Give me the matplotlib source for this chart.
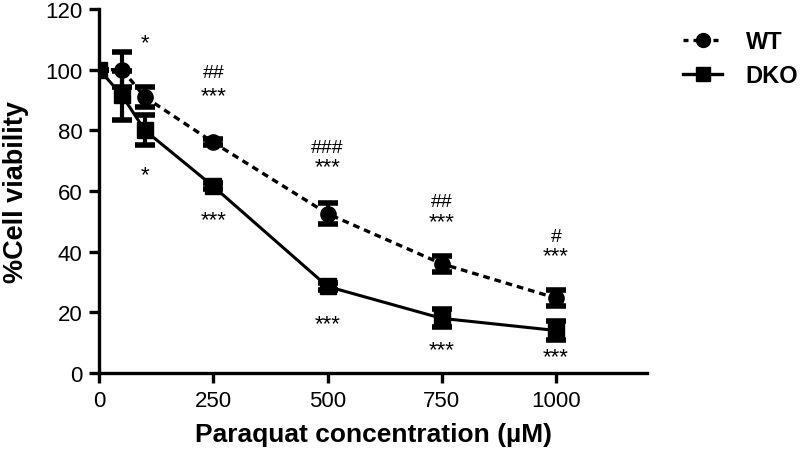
import numpy as np
import matplotlib.pyplot as plt
from matplotlib.lines import Line2D

plt.rcParams['font.family'] = ['Liberation Sans', 'DejaVu Sans']

conc = [0, 50, 100, 250, 500, 750, 1000]
wt = [100, 100, 91, 76, 52.5, 36, 24.7]
wt_err = [0, 5.8, 3.2, 1.0, 3.5, 2.6, 2.6]
dko = [100, 91.5, 80, 61.5, 28.5, 18, 14]
dko_err = [0, 8.0, 5.0, 1.0, 1.0, 3.0, 3.0]

# significance marks: (x, y, text)
marks_x = [100, 250, 250, 100, 250, 500, 500, 500, 750, 750, 750, 1000, 1000, 1000]
marks_y = [108.9, 99, 91.5, 65.5, 50.5, 74.3, 68, 16.2, 56.6, 49.8, 7.6, 45, 38.5, 5.3]
marks_t = ['*', '##', '***', '*', '***', '###', '***', '***', '##', '***', '***', '#', '***', '***']

fig = plt.figure(figsize=(8, 4.56), dpi=100)
ax = fig.add_axes([0.124, 0.18, 0.685, 0.798])

ax.errorbar(conc, wt, yerr=wt_err, color='black', ls=(0, (2.0, 1.5)), lw=2.4,
            marker='o', ms=11, capsize=7, capthick=4, elinewidth=3, zorder=3)
ax.errorbar(conc, dko, yerr=dko_err, color='black', ls='-', lw=2.2,
            marker='s', ms=11, capsize=7, capthick=4, elinewidth=3, zorder=3)

for x, y, t in zip(marks_x, marks_y, marks_t):
    fs = 16 if '*' in t else 14
    ax.text(x, y, t, ha='center', va='center', fontsize=fs)

ax.set_xlim(0, 1200)
ax.set_ylim(0, 120)
ax.set_xticks([0, 250, 500, 750, 1000])
ax.set_yticks(np.arange(0, 121, 20))
ax.spines['top'].set_visible(False)
ax.spines['right'].set_visible(False)
for sp in ['left', 'bottom']:
    ax.spines[sp].set_linewidth(2.4)
ax.tick_params(width=2.4, length=7, labelsize=16, direction='out', pad=5)
ax.set_xlabel('Paraquat concentration (µM)', fontsize=19, fontweight='bold', labelpad=8)
ax.set_ylabel('%Cell viability', fontsize=19.5, fontweight='bold', labelpad=12)

handles = [Line2D([], [], color='black', ls=(0, (1.5, 1.5)), lw=2.4, marker='o', ms=10),
           Line2D([], [], color='black', ls='-', lw=2.4, marker='s', ms=10)]
leg = ax.legend(handles, ['WT', 'DKO'], loc='upper left', bbox_to_anchor=(1.027, 1.0),
                frameon=False, fontsize=17, handlelength=1.65, labelspacing=0.45,
                handletextpad=1.0)
for t in leg.get_texts():
    t.set_fontweight('bold')

plt.savefig('out.png', dpi=100)
